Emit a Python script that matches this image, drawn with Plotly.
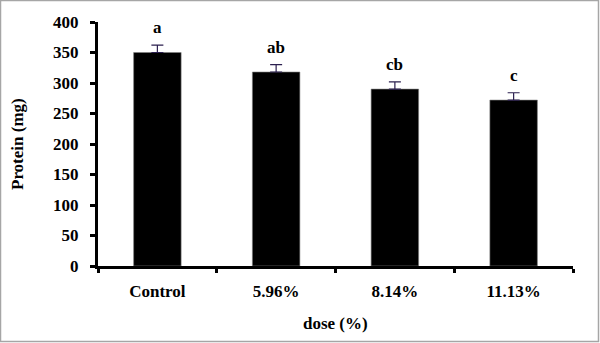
import plotly.graph_objects as go

categories = ["Control", "5.96%", "8.14%", "11.13%"]
protein = [350, 318, 290, 272]
errors = [12, 12, 12, 12]
letters = ["a", "ab", "cb", "c"]
y_ticks = [0, 50, 100, 150, 200, 250, 300, 350, 400]

FONT = "'Liberation Serif', 'Times New Roman', serif"
fsize = 17

fig = go.Figure()
fig.add_trace(go.Bar(
    x=categories, y=protein, width=0.4,
    marker=dict(color="black", line=dict(color="#808080", width=0.6)),
    error_y=dict(type="data", array=errors, visible=True, color="#2b1f4f",
                 thickness=1.2, width=6, symmetric=False, arrayminus=[0]*4),
))

annotations = []
for c, v, e, t in zip(categories, protein, errors, letters):
    annotations.append(dict(x=c, y=v + e, xref="x", yref="y", text=f"<b>{t}</b>",
                            showarrow=False, yanchor="bottom", yshift=6,
                            font=dict(family=FONT, size=fsize, color="black")))

annotations.append(dict(x=(17 - 98) / 475, y=0.5, xref="paper", yref="paper",
                        text="<b>Protein (mg)</b>", textangle=-90, showarrow=False,
                        xanchor="center", yanchor="middle",
                        font=dict(family=FONT, size=fsize, color="black")))
annotations.append(dict(x=0.5, y=(266 - 323) / 244, xref="paper", yref="paper",
                        text="<b>dose (%)</b>", showarrow=False,
                        xanchor="center", yanchor="middle",
                        font=dict(family=FONT, size=fsize, color="black")))

fig.update_layout(
    width=600, height=343,
    margin=dict(l=98, r=27, t=22, b=77, autoexpand=False),
    paper_bgcolor="white", plot_bgcolor="white",
    showlegend=False,
    font=dict(family=FONT, size=fsize, color="black"),
    annotations=annotations,
    shapes=[dict(type="rect", xref="paper", yref="paper",
                 x0=(0.5 - 98) / 475, x1=(598.5 - 98) / 475,
                 y0=(266 - 341.5) / 244, y1=(266 - 0.5) / 244,
                 line=dict(color="#a6a6a6", width=1.5), fillcolor="rgba(0,0,0,0)",
                 layer="below")],
)

fig.update_xaxes(
    type="category", showline=True, linecolor="black", linewidth=3,
    ticks="outside", tickson="boundaries", ticklen=4, tickwidth=3, tickcolor="black",
    showgrid=False, zeroline=False, ticklabelstandoff=8, automargin=False,
    tickfont=dict(family=FONT, size=fsize, color="black", weight="bold"),
)
fig.update_yaxes(
    range=[0, 400], tickvals=y_ticks, showline=True, linecolor="black", linewidth=3,
    ticks="outside", ticklen=5, tickwidth=3, tickcolor="black",
    showgrid=False, zeroline=False, ticklabelstandoff=8, automargin=False,
    tickfont=dict(family=FONT, size=fsize, color="black", weight="bold"),
)

fig.write_html("out.html", config={"displayModeBar": False},
               post_script="document.body.style.margin='0px';document.body.style.overflow='hidden';")
